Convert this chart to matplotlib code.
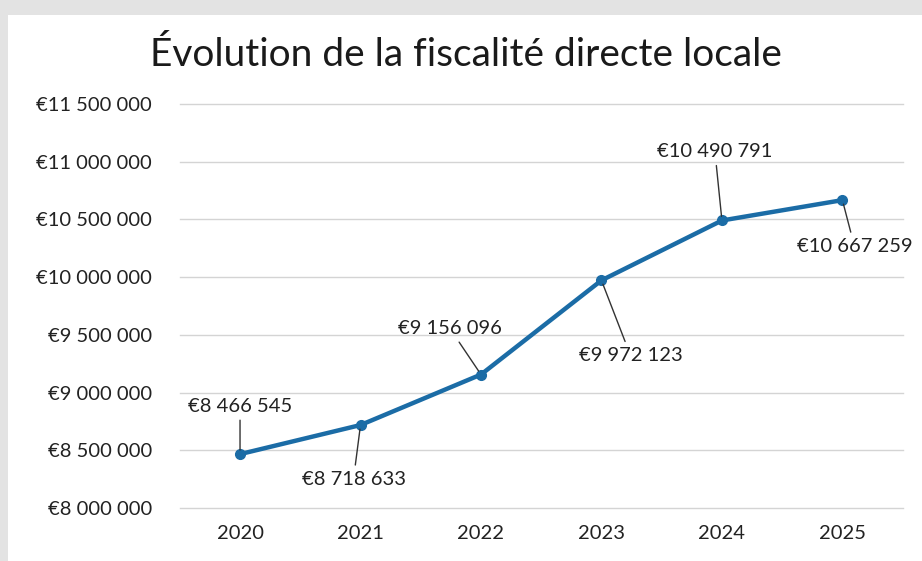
import matplotlib
matplotlib.use("Agg")
import matplotlib.pyplot as plt
from matplotlib.patches import Rectangle
from matplotlib.ticker import FuncFormatter

years = ["2020", "2021", "2022", "2023", "2024", "2025"]
values = [8466545, 8718633, 9156096, 9972123, 10490791, 10667259]
y_ticks = [8000000, 8500000, 9000000, 9500000, 10000000, 10500000, 11000000, 11500000]

# label offsets in pixels (text centre relative to point)
label_offsets = [(0, 48), (-7, -54), (-31, 46), (29, -75), (-7, 69), (12, -46)]

plt.rcParams['font.family'] = ['Lato', 'DejaVu Sans']


def euro(v, pos=None):
    s = f"{int(round(v)):,}".replace(",", " ")
    return "€" + s


fig = plt.figure(figsize=(9.22, 5.61), dpi=100, facecolor="#e3e3e3")
fig.patches.append(Rectangle((8 / 922, 0), 1, 1 - 15 / 561, transform=fig.transFigure,
                             facecolor="white", edgecolor="none", zorder=-5))

ax = fig.add_axes([0.195, 0.0945, 0.784, 0.7201])
ax.set_zorder(2)
ax.set_facecolor("none")

x = list(range(len(years)))
ax.plot(x, values, color="#1b6ca6", lw=3.2, marker="o", markersize=7,
        markerfacecolor="#1b6ca6", markeredgecolor="#1b6ca6", zorder=3,
        solid_capstyle="round")

for xi, v, off in zip(x, values, label_offsets):
    ax.annotate(euro(v), xy=(xi, v), xytext=off, textcoords="offset pixels",
                ha="center", va="center", fontsize=14.5, color="#222222",
                arrowprops=dict(arrowstyle="-", color="#333333", lw=1,
                                shrinkA=2, shrinkB=3))

ax.set_xlim(-0.5, len(years) - 0.5)
ax.set_ylim(y_ticks[0], y_ticks[-1])
ax.set_yticks(y_ticks)
ax.yaxis.set_major_formatter(FuncFormatter(euro))
ax.set_xticks(x)
ax.set_xticklabels(years)
ax.tick_params(axis="both", length=0, labelsize=14.5, labelcolor="#222222")
ax.tick_params(axis="y", pad=20)
ax.tick_params(axis="x", pad=12)
ax.grid(axis="y", color="#d4d4d4", lw=1)
for gl in ax.get_ygridlines():
    gl.set_clip_on(False)
ax.set_axisbelow(True)
for sp in ax.spines.values():
    sp.set_visible(False)

fig.text(0.505, 0.902, "Évolution de la fiscalité directe locale", ha="center",
         va="center", fontsize=28, color="#1a1a1a")

fig.savefig("out.png", dpi=100, facecolor=fig.get_facecolor())
